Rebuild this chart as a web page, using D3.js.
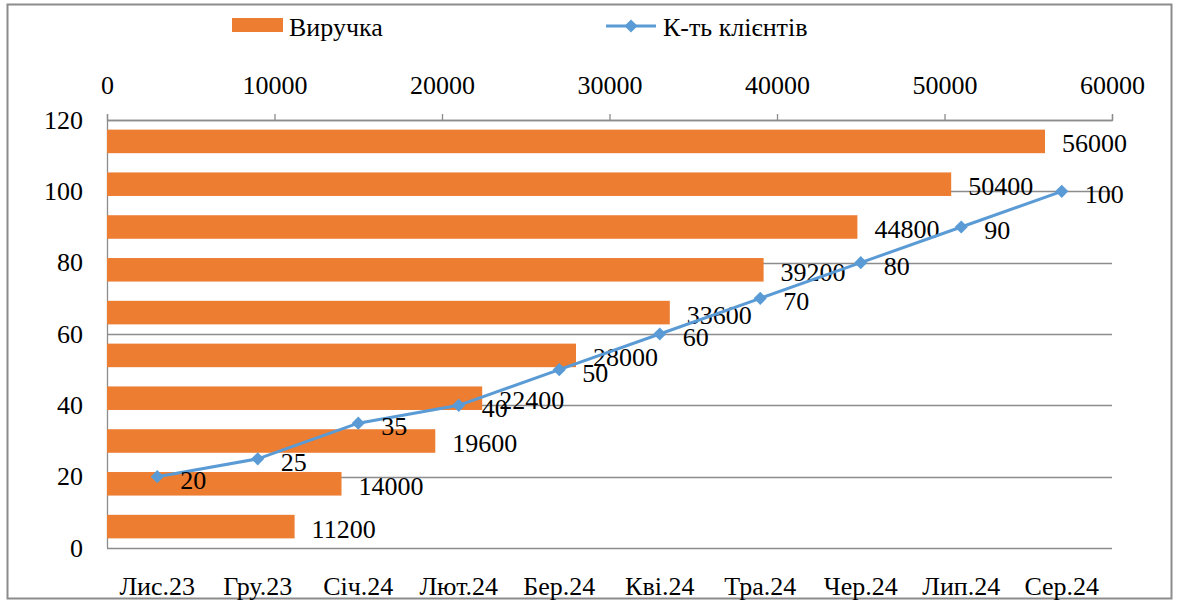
<!DOCTYPE html>
<html>
<head>
<meta charset="utf-8">
<script src="https://cdn.jsdelivr.net/npm/d3@7"></script>
<style>
  body { margin: 0; background: #fff; }
  svg text { font-family: "Times New Roman", "Liberation Serif", Tinos, "DejaVu Serif", serif !important; }
</style>
</head>
<body>
<div id="chart"></div>
<script>
// categories (bottom to top for bars, left to right for line)
const months = ["Лис.23", "Гру.23", "Січ.24", "Лют.24", "Бер.24", "Кві.24", "Тра.24", "Чер.24", "Лип.24", "Сер.24"];
const revenue = [11200, 14000, 19600, 22400, 28000, 33600, 39200, 44800, 50400, 56000];
const clients = [20, 25, 35, 40, 50, 60, 70, 80, 90, 100];
const revenueTicks = [0, 10000, 20000, 30000, 40000, 50000, 60000];
const clientTicks = [0, 20, 40, 60, 80, 100, 120];

const W = 1178, H = 602;
const margin = { top: 120, right: 66, bottom: 54, left: 107 },
    width = W - margin.left - margin.right,
    height = H - margin.top - margin.bottom;

const orange = "#ED7D31", blue = "#5B9BD5", grid = "#8c8c8c";
const fs = "26px";

const svg = d3.select("#chart").append("svg")
    .attr("width", W).attr("height", H);

// outer frame
svg.append("rect")
    .attr("x", 7.5).attr("y", 4.5)
    .attr("width", 1164).attr("height", 594)
    .attr("fill", "none").attr("stroke", "#8c8c8c").attr("stroke-width", 2);

const g = svg.append("g").attr("transform", `translate(${margin.left},${margin.top})`);

// scales
const xRev = d3.scaleLinear().domain([0, 60000]).range([0, width]);
const yBand = d3.scaleBand().domain(months).range([height, 0]).paddingInner(0.45).paddingOuter(0.225);
const yCli = d3.scaleLinear().domain([0, 120]).range([height, 0]);
const xCat = d3.scaleBand().domain(months).range([0, width]);

// gridlines from left axis
g.append("g")
    .selectAll("line")
    .data(clientTicks)
    .join("line")
    .attr("x1", 0).attr("x2", width)
    .attr("y1", d => Math.round(yCli(d)) + 0.5)
    .attr("y2", d => Math.round(yCli(d)) + 0.5)
    .attr("stroke", grid).attr("stroke-width", 1.3);

// left axis line
g.append("line")
    .attr("x1", 0.5).attr("x2", 0.5)
    .attr("y1", 0).attr("y2", height)
    .attr("stroke", grid).attr("stroke-width", 1.3);

// top axis
const topAxis = g.append("g")
    .call(d3.axisTop(xRev).tickValues(revenueTicks).tickSize(6).tickSizeOuter(6).tickPadding(20).tickFormat(d3.format("d")));
topAxis.attr("font-family", null).attr("font-size", null);
topAxis.select(".domain").attr("stroke", grid).attr("stroke-width", 1.3);
topAxis.selectAll(".tick line").attr("stroke", grid).attr("stroke-width", 1.3);
topAxis.selectAll("text").style("font-size", fs).attr("fill", "#000");

// left axis labels
const leftAxis = g.append("g")
    .call(d3.axisLeft(yCli).tickValues(clientTicks).tickSize(0).tickPadding(24));
leftAxis.attr("font-family", null).attr("font-size", null);
leftAxis.select(".domain").remove();
leftAxis.selectAll("text").style("font-size", fs).attr("fill", "#000");

// bottom category labels
const bottomAxis = g.append("g")
    .attr("transform", `translate(0,${height})`)
    .call(d3.axisBottom(xCat).tickSize(0).tickPadding(29));
bottomAxis.attr("font-family", null).attr("font-size", null);
bottomAxis.select(".domain").remove();
bottomAxis.selectAll("text").style("font-size", fs).attr("fill", "#000");

// bars
const barData = months.map((m, i) => ({ m, v: revenue[i] }));
g.selectAll(".bar")
    .data(barData)
    .join("rect")
    .attr("class", "bar")
    .attr("x", 0)
    .attr("y", d => yBand(d.m))
    .attr("width", d => xRev(d.v))
    .attr("height", yBand.bandwidth())
    .attr("fill", orange);

g.selectAll(".barlabel")
    .data(barData)
    .join("text")
    .attr("class", "barlabel")
    .attr("x", d => xRev(d.v) + 17)
    .attr("y", d => yBand(d.m) + yBand.bandwidth() / 2 + 11)
    .style("font-size", fs)
    .text(d => d.v);

// line
const lineData = months.map((m, i) => ({ m, v: clients[i] }));
const line = d3.line()
    .x(d => xCat(d.m) + xCat.bandwidth() / 2)
    .y(d => yCli(d.v));

g.append("path")
    .datum(lineData)
    .attr("d", line)
    .attr("fill", "none")
    .attr("stroke", blue)
    .attr("stroke-width", 3);

g.selectAll(".pt")
    .data(lineData)
    .join("path")
    .attr("class", "pt")
    .attr("d", d3.symbol(d3.symbolDiamond2, 110))
    .attr("transform", d => `translate(${xCat(d.m) + xCat.bandwidth() / 2},${yCli(d.v)})`)
    .attr("fill", blue);

g.selectAll(".ptlabel")
    .data(lineData)
    .join("text")
    .attr("class", "ptlabel")
    .attr("x", d => xCat(d.m) + xCat.bandwidth() / 2 + 23)
    .attr("y", d => yCli(d.v) + 12)
    .style("font-size", fs)
    .text(d => d.v);

// legend
const leg = svg.append("g");
leg.append("rect")
    .attr("x", 232).attr("y", 18).attr("width", 51).attr("height", 14)
    .attr("fill", orange);
leg.append("text").attr("x", 289).attr("y", 36).style("font-size", fs).text("Виручка");
leg.append("line")
    .attr("x1", 606).attr("x2", 656).attr("y1", 26).attr("y2", 26)
    .attr("stroke", blue).attr("stroke-width", 3);
leg.append("path")
    .attr("d", d3.symbol(d3.symbolDiamond2, 110))
    .attr("transform", "translate(631,26)")
    .attr("fill", blue);
leg.append("text").attr("x", 663).attr("y", 36).style("font-size", fs).text("К-ть клієнтів");
</script>
</body>
</html>
